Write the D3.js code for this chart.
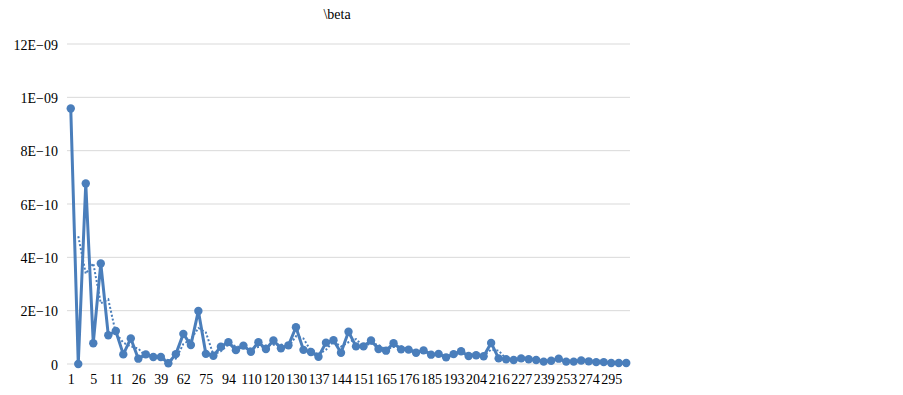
<!DOCTYPE html>
<html>
<head>
<meta charset="utf-8">
<script src="https://cdn.jsdelivr.net/npm/d3@7"></script>
<style>
  body { margin: 0; background: #fff; }
  svg text { font-family: "Times New Roman", "Liberation Serif", "DejaVu Serif", serif; fill: #000; }
</style>
</head>
<body>
<div id="chart"></div>
<script>
// categories (only every third one is labelled on the axis)
var categories = [1, 2, 3, 5, 7, 9, 11, 16, 21, 26, 30, 35, 39, 47, 55, 62, 66, 70, 75, 81, 88,
  94, 99, 105, 110, 113, 117, 120, 123, 127, 130, 132, 135, 137, 139, 142, 144, 146, 149,
  151, 155, 160, 165, 169, 172, 176, 179, 182, 185, 188, 190, 193, 197, 200, 204, 208, 212,
  216, 220, 223, 227, 231, 235, 239, 244, 248, 253, 260, 267, 274, 281, 288, 295, 300, 305];

// beta values, in units of 1E-10
var betaValues = [9.58, 0.0, 6.77, 0.78, 3.77, 1.08, 1.24, 0.36, 0.96, 0.2, 0.36, 0.26, 0.26, 0.03,
  0.37, 1.13, 0.71, 1.99, 0.38, 0.31, 0.65, 0.82, 0.52, 0.69, 0.46, 0.82, 0.56, 0.88, 0.59, 0.7,
  1.38, 0.53, 0.45, 0.27, 0.8, 0.89, 0.42, 1.21, 0.66, 0.66, 0.88, 0.56, 0.5, 0.78, 0.55, 0.54,
  0.42, 0.51, 0.35, 0.38, 0.25, 0.37, 0.48, 0.3, 0.33, 0.29, 0.79, 0.21, 0.18, 0.15, 0.21, 0.18,
  0.15, 0.09, 0.12, 0.2, 0.09, 0.09, 0.13, 0.1, 0.07, 0.07, 0.04, 0.04, 0.04];

var yTicks = [0, 2, 4, 6, 8, 10, 12];
var yTickLabels = ["0", "2E\u221210", "4E\u221210", "6E\u221210", "8E\u221210", "1E\u221209", "12E\u221209"];
var titleText = "\\beta";

var margin = {top: 44, right: 273, bottom: 31, left: 67};
var width = 903 - margin.left - margin.right;
var height = 395 - margin.top - margin.bottom;
var color = "#4a7ebb";
var serif = '"Times New Roman", "Liberation Serif", "DejaVu Serif", serif';

var svg = d3.select("#chart").append("svg")
    .attr("width", 903)
    .attr("height", 395);

var g = svg.append("g")
    .attr("transform", "translate(" + margin.left + "," + margin.top + ")");

var data = categories.map(function(c, i){ return {cat: c, i: i, v: betaValues[i]}; });

var x = d3.scalePoint()
    .domain(data.map(d => d.i))
    .range([0, width])
    .padding(0.5);

var y = d3.scaleLinear()
    .domain([0, 12])
    .range([height, 0]);

// gridlines
g.append("g")
    .selectAll("line")
    .data(yTicks)
    .enter().append("line")
    .attr("x1", 0).attr("x2", width)
    .attr("y1", d => y(d)).attr("y2", d => y(d))
    .style("stroke", "#d9d9d9")
    .style("stroke-width", 1);

// y labels
var yAxis = d3.axisLeft(y)
    .tickValues(yTicks)
    .tickFormat((d, i) => yTickLabels[i])
    .tickSize(0)
    .tickPadding(9);
g.append("g").call(yAxis)
    .attr("font-family", serif)
    .attr("font-size", 14)
    .call(s => s.select(".domain").remove())
    .selectAll("text")
    .attr("dy", "0.36em");

// x labels, every third category
var xAxis = d3.axisBottom(x)
    .tickValues(data.filter(d => d.i % 3 === 0).map(d => d.i))
    .tickFormat(i => categories[i])
    .tickSize(0)
    .tickPadding(10);
g.append("g")
    .attr("transform", "translate(0," + height + ")")
    .call(xAxis)
    .attr("font-family", serif)
    .attr("font-size", 14)
    .call(s => s.select(".domain").remove());

// 2-period moving average trendline
var avg = data.slice(1).map(d => ({i: d.i, v: (betaValues[d.i - 1] + d.v) / 2}));
g.append("path")
    .datum(avg)
    .attr("fill", "none")
    .attr("stroke", color)
    .attr("stroke-width", 2)
    .attr("stroke-dasharray", "2,2")
    .attr("d", d3.line().x(d => x(d.i)).y(d => y(d.v)));

// series line
g.append("path")
    .datum(data)
    .attr("fill", "none")
    .attr("stroke", color)
    .attr("stroke-width", 3)
    .attr("stroke-linejoin", "round")
    .attr("d", d3.line().x(d => x(d.i)).y(d => y(d.v)));

g.selectAll(".dot")
    .data(data)
    .enter().append("circle")
    .attr("class", "dot")
    .attr("cx", d => x(d.i))
    .attr("cy", d => y(d.v))
    .attr("r", 4.2)
    .style("fill", color);

svg.append("text")
    .attr("x", 337)
    .attr("y", 19)
    .attr("text-anchor", "middle")
    .attr("font-family", serif)
    .attr("font-size", 14)
    .style("fill", "#000")
    .text(titleText);
</script>
</body>
</html>
